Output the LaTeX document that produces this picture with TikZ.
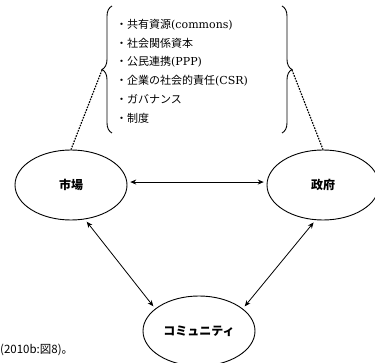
\documentclass[tikz,border=0pt]{standalone}
\usepackage{fontspec}
\setmainfont{DejaVu Serif}
\newfontfamily\jp{Noto Sans CJK JP}
\usetikzlibrary{shapes.geometric,decorations.pathreplacing,arrows.meta}
\begin{document}
\begin{tikzpicture}[x=1pt,y=-1pt,
  ell/.style={draw, ellipse, line width=0.9pt, minimum width=112pt, minimum height=70pt, inner sep=0pt, font=\jp\bfseries\fontsize{12}{14}\selectfont},
  item/.style={anchor=west, inner sep=0pt, font=\fontsize{11}{13}\selectfont},
  arr/.style={{Stealth[length=6pt,width=5pt]}-{Stealth[length=6pt,width=5pt]}, line width=0.8pt, shorten <=3pt, shorten >=3pt},
  dashline/.style={line width=1.2pt, dash pattern=on 1.6pt off 1.2pt},
  bracedec/.style={decorate, decoration={brace, amplitude=10pt}, line width=0.9pt}]
\useasboundingbox (0,0) rectangle (375,363);
\node[ell] (m) at (71,185) {市場};
\node[ell] (g) at (323,185) {政府};
\node[ell] (c) at (199,331) {コミュニティ};
\node[item] (i1) at (116,25) {{\jp ・共有資源}(commons)};
\node[item] (i2) at (116,43) {{\jp ・社会関係資本}};
\node[item] (i3) at (116,62) {{\jp ・公民連携}(PPP)};
\node[item] (i4) at (116,81) {{\jp ・企業の社会的責任}(CSR)};
\node[item] (i5) at (116,99) {{\jp ・ガバナンス}};
\node[item] (i6) at (116,118) {{\jp ・制度}};
\draw[bracedec] (112,133) -- (112,6);
\draw[bracedec] (282,6) -- (282,133);
\coordinate (lt) at (102,70);
\coordinate (rt) at (292,70);
\draw[dashline] (lt) -- (m.north);
\draw[dashline] (rt) -- (g.north);
\draw[arr] (m.3) -- (g.177);
\draw[arr] (m.-68) -- (c.153);
\draw[arr] (g.-102) -- (c.27);
\node[anchor=west, inner sep=0pt, font=\jp\fontsize{11.5}{13}\selectfont] (cap) at (0,350) {(2010b:図8)。};
\end{tikzpicture}
\end{document}
